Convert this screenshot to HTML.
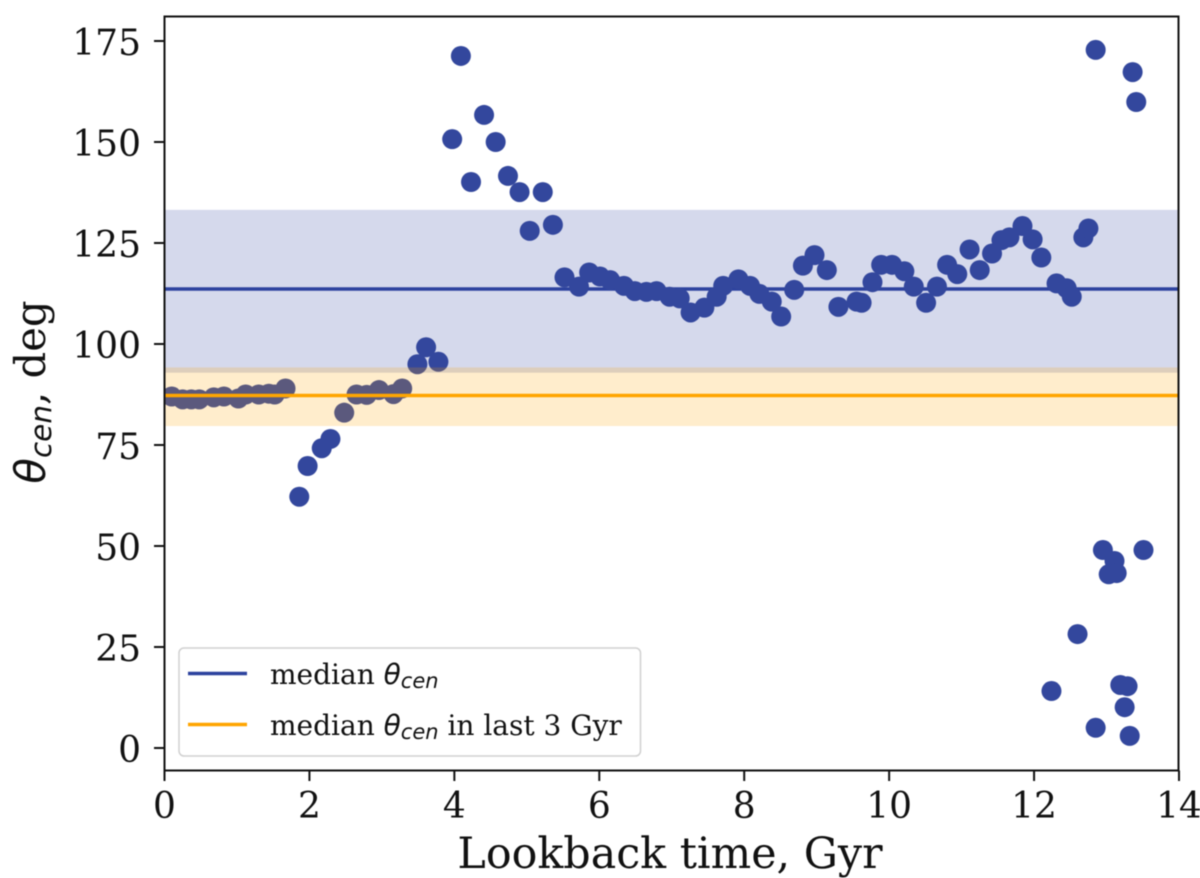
<!DOCTYPE html>
<html lang="en">
<head>
<meta charset="utf-8">
<title>Median theta cen over lookback time</title>
<style>
html,body{margin:0;padding:0;background:#fff;}
svg{display:block;filter:blur(0.5px);}
text{font-family:"DejaVu Serif","Liberation Serif",serif;fill:#111;}
.math{font-family:"DejaVu Sans","Liberation Sans",sans-serif;font-style:italic;}
</style>
</head>
<body>
<svg id="chart" width="1200" height="878" viewBox="0 0 1200 878" xmlns="http://www.w3.org/2000/svg">
<defs><clipPath id="plot-clip"><rect x="164.5" y="16.5" width="1014" height="754"/></clipPath></defs>
<rect x="0" y="0" width="1200" height="878" fill="#ffffff"/>
<g id="plot" clip-path="url(#plot-clip)"></g>
<g id="axes"></g>
<rect x="164.5" y="16.5" width="1014" height="754" fill="none" stroke="#111" stroke-width="2"/>
<text x="670" y="868" font-size="42.8" text-anchor="middle">Lookback time, Gyr</text>
<text transform="translate(45,392) rotate(-90)" font-size="41.7" text-anchor="middle"><tspan class="math">θ</tspan><tspan class="math" font-size="29.5" dy="6">cen</tspan><tspan dy="-6">, deg</tspan></text>
<g>
<rect x="179" y="648" width="461.5" height="108" rx="5" fill="#ffffff" fill-opacity="0.85" stroke="#d0d0d0" stroke-width="1.5"/>
<line x1="188" x2="247" y1="673.5" y2="673.5" stroke="#2c429e" stroke-width="3.5"/>
<text x="270" y="684" font-size="28">median <tspan class="math">θ</tspan><tspan class="math" font-size="21" dy="4">cen</tspan></text>
<line x1="188" x2="247" y1="724.5" y2="724.5" stroke="#ffa500" stroke-width="3.5"/>
<text x="270" y="735" font-size="28">median <tspan class="math">θ</tspan><tspan class="math" font-size="21" dy="4">cen</tspan><tspan dy="-4"> in last 3 Gyr</tspan></text>
</g>
</svg>
<script>
const xTicks = [0, 2, 4, 6, 8, 10, 12, 14];
const yTicks = [0, 25, 50, 75, 100, 125, 150, 175];
const times = [0.1,0.25,0.37,0.48,0.68,0.82,1.02,1.12,1.3,1.44,1.52,1.67,
  1.86,1.975,2.17,2.29,2.48,2.65,2.79,2.96,3.16,3.28,3.49,3.61,3.78,
  3.97,4.09,4.23,4.41,4.57,4.74,4.9,5.04,5.22,5.36,
  5.52,5.72,5.86,6.01,6.15,6.34,6.49,6.65,6.79,6.97,7.11,7.26,7.45,7.62,7.71,7.92,8.08,8.21,8.38,8.51,8.69,8.81,8.97,9.14,9.3,9.55,9.62,
  9.77,9.89,10.04,10.21,10.34,10.51,10.66,10.8,10.94,11.11,11.25,11.42,11.55,11.66,11.84,11.98,12.1,12.31,12.45,12.52,12.68,12.75,
  12.85,13.36,13.41,12.95,13.03,13.11,13.14,13.51,12.6,12.24,12.85,13.19,13.29,13.25,13.32];
const thetas = [87,86.3,86.3,86.3,86.8,87,86.5,87.5,87.5,87.7,87.5,89,
  62.2,69.8,74.2,76.5,83,87.5,87.4,88.6,87.6,89,95,99.2,95.6,
  150.7,171.3,140.1,156.7,150,141.6,137.6,128,137.6,129.5,
  116.5,114.2,117.7,116.7,115.8,114.4,113.1,112.9,113.1,111.7,111.3,107.8,109,111.7,114.4,116,114.4,112.4,110.5,106.8,113.4,119.4,122,118.3,109.2,110.5,110.2,
  115.3,119.6,119.6,118,114.2,110.2,114.2,119.6,117.3,123.4,118.3,122.4,125.7,126.4,129.2,125.9,121.4,115,113.8,111.7,126.4,128.6,
  172.8,167.3,159.9,49,43,46.3,43.3,49,28.2,14.1,5,15.6,15.3,10.1,3];
const medianAll = [113.6];
const medianRecent = [87.25];
const bandAll = [92.9, 133.2];
const bandRecent = [79.7, 94.2];

const NS = 'http://www.w3.org/2000/svg';
const xScale = t => 164.5 + t * (1014.5 / 14);
const yScale = v => 748 - v * 4.04;
const xLeft = xScale(0);
const xRight = xScale(14);
const plot = document.getElementById('plot');
const axes = document.getElementById('axes');

function make(tag, attrs, parent) {
  const el = document.createElementNS(NS, tag);
  for (const k in attrs) el.setAttribute(k, attrs[k]);
  parent.appendChild(el);
  return el;
}
function band(range, fill, parent) {
  return make('rect', {x: xLeft, width: xRight - xLeft, y: yScale(range[1]), height: yScale(range[0]) - yScale(range[1]), fill: fill, 'fill-opacity': 0.2}, parent);
}
function hline(value, stroke, parent) {
  return make('line', {x1: xLeft, x2: xRight, y1: yScale(value), y2: yScale(value), stroke: stroke, 'stroke-width': 3.5}, parent);
}

const bandA = band(bandAll, '#2c429e', plot);


const lineA = hline(medianAll[0], '#2c429e', plot);



times.forEach((t, i) => {
  const c = make('circle', {cx: xScale(t), cy: yScale(thetas[i]), r: 10, fill: '#33479d'}, plot);
  
  
});

const bandB = band(bandRecent, '#ffa500', plot);


const lineB = hline(medianRecent[0], '#ffa500', plot);



xTicks.forEach(v => {
  const x = xScale(v);
  const tick = make('line', {x1: x, x2: x, y1: 770.5, y2: 781, stroke: '#111', 'stroke-width': 2}, axes);
  
  
  const label = make('text', {x: x, y: 818, 'font-size': 36, 'text-anchor': 'middle'}, axes);
  
  
  label.textContent = String(v);
});
yTicks.forEach(v => {
  const y = yScale(v);
  const tick = make('line', {x1: 154, x2: 164.5, y1: y, y2: y, stroke: '#111', 'stroke-width': 2}, axes);
  
  
  const label = make('text', {x: 141, y: y + 14, 'font-size': 36, 'text-anchor': 'end'}, axes);
  
  
  label.textContent = String(v);
});
</script>
</body>
</html>
